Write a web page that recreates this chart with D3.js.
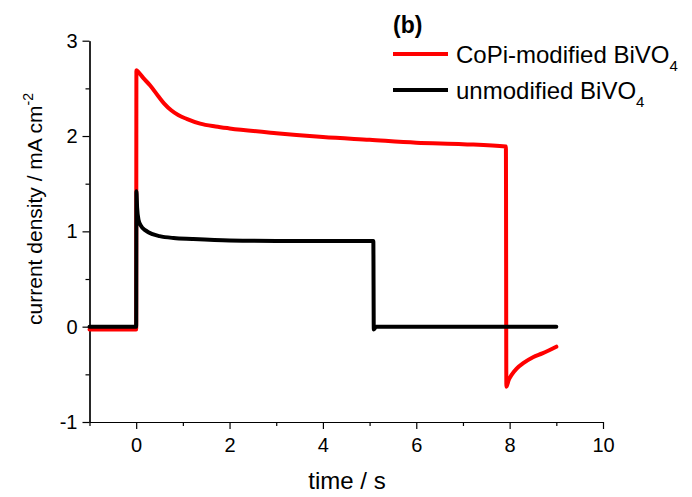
<!DOCTYPE html>
<html>
<head>
<meta charset="utf-8">
<script src="https://cdn.jsdelivr.net/npm/d3@7"></script>
<style>
  body { margin: 0; background: #fff; }
  svg { display: block; font-family: "Liberation Sans", Arial, sans-serif; }
</style>
</head>
<body>
<svg id="chart" width="692" height="497"></svg>
<script>
// CoPi-modified BiVO4 (red)
const copiTime = [-1, 0, 0.005, 0.05, 0.15, 0.3, 0.47, 0.6, 0.75, 0.9, 1.08, 1.37, 1.7, 2, 3, 4, 5, 6, 7, 7.92, 7.93, 7.98, 8.05, 8.15, 8.3, 8.5, 8.7, 9.0];
const copiCurrent = [-0.03, -0.03, 2.69, 2.67, 2.61, 2.53, 2.42, 2.34, 2.27, 2.22, 2.18, 2.13, 2.10, 2.08, 2.03, 1.99, 1.96, 1.93, 1.915, 1.89, -0.63, -0.56, -0.50, -0.44, -0.38, -0.32, -0.28, -0.21];

// unmodified BiVO4 (black)
const bareTime = [-1, 0, 0.005, 0.02, 0.05, 0.1, 0.2, 0.35, 0.5, 0.8, 1.2, 2, 3, 4, 5.08, 5.09, 5.14, 6, 7, 8, 9];
const bareCurrent = [0, 0, 1.42, 1.25, 1.12, 1.06, 1.01, 0.97, 0.95, 0.93, 0.92, 0.905, 0.90, 0.90, 0.90, -0.03, 0, 0, 0, 0, 0];

const xTicks = [0, 2, 4, 6, 8, 10];
const yTicks = [-1, 0, 1, 2, 3];
const xMinor = [-1, 1, 3, 5, 7, 9];
const yMinor = [-0.5, 0.5, 1.5, 2.5];

const svg = d3.select('#chart');
const x = d3.scaleLinear().domain([-1, 10]).range([89.5, 603]);
const y = d3.scaleLinear().domain([-1, 3]).range([422, 40.7]);
const fmt = d => String(d);

// Axes: major ticks with labels, minor ticks without
const xAxis = svg.append('g').attr('transform', `translate(0,${y(-1)})`)
  .call(d3.axisBottom(x).tickValues(xTicks).tickFormat(fmt).tickSize(7).tickSizeOuter(0).tickPadding(6));
svg.append('g').attr('transform', `translate(0,${y(-1)})`)
  .call(d3.axisBottom(x).tickValues(xMinor).tickSize(4).tickSizeOuter(0).tickFormat(''));
svg.append('g').attr('transform', `translate(${x(-1)},0)`)
  .call(d3.axisLeft(y).tickValues(yTicks).tickFormat(fmt).tickSize(7).tickSizeOuter(0).tickPadding(5));
svg.append('g').attr('transform', `translate(${x(-1)},0)`)
  .call(d3.axisLeft(y).tickValues(yMinor).tickSize(4).tickSizeOuter(0).tickFormat(''));

svg.selectAll('.domain, .tick line').attr('stroke', '#000').attr('stroke-width', 1.2);
svg.selectAll('.tick text').attr('fill', '#000').attr('font-size', 20)
  .attr('font-family', '"Liberation Sans", Arial, sans-serif');
xAxis.selectAll('.tick text').attr('dy', '0.85em');

// Series
const line = d3.line().x(d => x(d[0])).y(d => y(d[1])).curve(d3.curveMonotoneX);
const copi = d3.zip(copiTime, copiCurrent);
const bare = d3.zip(bareTime, bareCurrent);

svg.append('path').datum(copi).attr('d', line)
  .attr('fill', 'none').attr('stroke', '#ff0000').attr('stroke-width', 4).attr('stroke-linejoin', 'round').attr('stroke-linecap', 'round');
svg.append('path').datum(bare).attr('d', line)
  .attr('fill', 'none').attr('stroke', '#000').attr('stroke-width', 4).attr('stroke-linejoin', 'round').attr('stroke-linecap', 'round');

// Axis titles
svg.append('text').attr('x', 347).attr('y', 489).attr('text-anchor', 'middle')
  .attr('font-size', 24).text('time / s');

const yTitle = svg.append('text').attr('transform', 'translate(42,209) rotate(-90)')
  .attr('text-anchor', 'middle').attr('font-size', 21);
yTitle.append('tspan').text('current density / mA cm');
yTitle.append('tspan').attr('font-size', 14).attr('dy', -9).text('-2');

// Panel label
svg.append('text').attr('x', 393).attr('y', 33).attr('font-size', 23).attr('font-weight', 'bold').text('(b)');

// Legend
const legend = [
  { name: 'CoPi-modified BiVO', color: '#ff0000', y: 54 },
  { name: 'unmodified BiVO', color: '#000', y: 90 }
];
const lg = svg.append('g').selectAll('g').data(legend).join('g');
lg.append('line').attr('x1', 393).attr('x2', 448).attr('y1', d => d.y).attr('y2', d => d.y)
  .attr('stroke', d => d.color).attr('stroke-width', 4);
const lt = lg.append('text').attr('x', 456).attr('y', d => d.y + 9).attr('font-size', 24);
lt.append('tspan').text(d => d.name);
lt.append('tspan').attr('font-size', 15).attr('dy', 8).text('4');
</script>
</body>
</html>
